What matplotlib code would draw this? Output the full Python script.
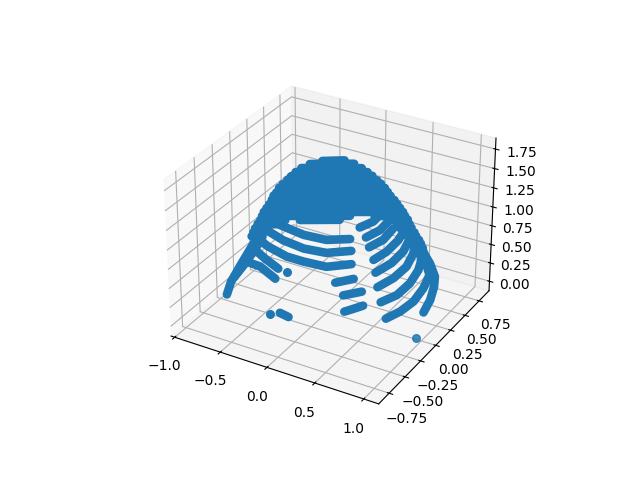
import matplotlib
matplotlib.use("Agg")
import matplotlib.pyplot as plt

BLUE = "#1f77b4"

# isolated points
dots_x = [-0.11, -0.05]
dots_y = [-0.45, -0.78]
dots_z = [0.71, 0.45]
far_dot = ([0.94], [0.0], [-0.11])

# dense bands running along y at a fixed x: x, then y values and z values
band_a = (.9, [.19,.30,.36,.37,.28,.14,-.01,-.17], [.06,.14,.27,.40,.64,.92,1.21,1.51])
band_b = (.85, [-.35,-.12,.10,.26,.36,.24], [.39,.30,.26,.31,.41,.78])
band_c = (.75, [-.28,-.02,.19,.33,.38,.29], [.51,.40,.39,.46,.56,.84])
band_d = (.65, [-.18,.08,.29,.40,.43], [.59,.51,.50,.59,.71])
band_e = (.55, [-.06,.20,.39,.50], [.65,.58,.59,.68])
band_f = (.45, [.06,.27,.46,.57], [.69,.64,.65,.71])
band_g = (.35, [.14,.37,.53], [.76,.69,.72])
band_h = (.25, [.24,.47,.63], [.78,.71,.73])
band_i = (.15, [.29,.51,.70], [.84,.76,.78])
y_bands = [band_a, band_b, band_c, band_d, band_e, band_f, band_g, band_h, band_i]

# dense bands running along x at a fixed y: y, then x values and z values
band_j = (-.6, [.59,.68,.78], [.58,.65,.73])
band_k = (-.5, [.51,.70], [.68,.80])
band_l = (-.4, [.36,.55], [.71,.83])
band_m = (-.3, [.46,.20,-.04,-.22,-.42,-.58], [.91,.78,.76,.76,.82,.91])
band_n = (-.2, [.39,.13,-.11,-.33,-.51], [.98,.86,.83,.86,.93])
band_o = (-.1, [.31,.06,-.18,-.44], [1.03,.93,.91,.95])
band_q = (-.5, [-.20,-.36,-.50], [.63,.73,.74])
band_r = (-.4, [-.24,-.38,-.52], [.67,.75,.85])
band_t = (-.35, [-.85,-.80,-.69,-.55,-.39], [.06,.25,.51,.83,1.19])
band_t2 = (-.35, [-.76,-.63,-.48], [.33,.57,.88])
band_u = (-.78, [.05,.14], [.50,.48])
x_bands = [band_j, band_k, band_l, band_m, band_n, band_o, band_q, band_r, band_t, band_t2, band_u]

# solid part of the dome: left ends sit at y=-0.1, right ends at y=0.15
cap_left_x = [.02,-.11,-.20,-.26,-.31,-.35,-.40,-.44,-.47,-.50,-.52,-.55,-.58,-.61,-.63,-.22,
              -.65,-.68,-.71,-.73,-.75,
              .56,.74,.79,.82,.86,.89,.92,.94,.97,1.00]
cap_left_z = [1.92,1.84,1.76,1.69,1.62,1.56,1.49,1.43,1.36,1.31,1.25,1.18,1.12,1.06,1.00,1.09,
              .94,.88,.81,.75,.69,
              1.41,1.42,1.39,1.35,1.31,1.28,1.24,1.19,1.15,1.11]
cap_right_x = [.08,.18,.26,.32,.37,.42,.46,.50,.53,.56,.60,.63,.66,.69,.14,.03,
               -.56,-.66,-.75,-.78,-.82,
               .71,.74,.76,.78,.81,.83,.86,.88,.90,.91]
cap_right_z = [1.78,1.77,1.74,1.71,1.68,1.64,1.61,1.57,1.53,1.49,1.45,1.41,1.37,1.33,1.09,1.00,
               .79,.70,.62,.56,.48,
               1.29,1.25,1.20,1.16,1.11,1.07,1.03,.99,.94,.89]

fig = plt.figure()
ax = fig.add_subplot(projection="3d")
LW = 6.2
ax.scatter(dots_x, dots_y, dots_z, color=BLUE, s=30, depthshade=False)
ax.scatter(*far_dot, color=BLUE, s=30, alpha=0.85, depthshade=False)
for x, ys, zs in y_bands:
    ax.plot([x] * len(ys), ys, zs, color=BLUE, lw=LW, solid_capstyle="round", solid_joinstyle="round")
for y, xs, zs in x_bands:
    ax.plot(xs, [y] * len(xs), zs, color=BLUE, lw=LW, solid_capstyle="round", solid_joinstyle="round")
for xl, zl, xr, zr in zip(cap_left_x, cap_left_z, cap_right_x, cap_right_z):
    ax.plot([xl, xr], [-.1, .15], [zl, zr], color=BLUE, lw=LW, solid_capstyle="round")

ax.set_xlim(-1.04, 1.15)
ax.set_ylim(-0.91, 0.93)
ax.set_zlim(-0.13, 1.89)
ax.set_xticks([-1.0, -0.5, 0.0, 0.5, 1.0])
ax.set_yticks([-0.75, -0.5, -0.25, 0.0, 0.25, 0.5, 0.75])
ax.set_zticks([0, 0.25, 0.5, 0.75, 1.0, 1.25, 1.5, 1.75])
fig.savefig("out.png", dpi=100)
